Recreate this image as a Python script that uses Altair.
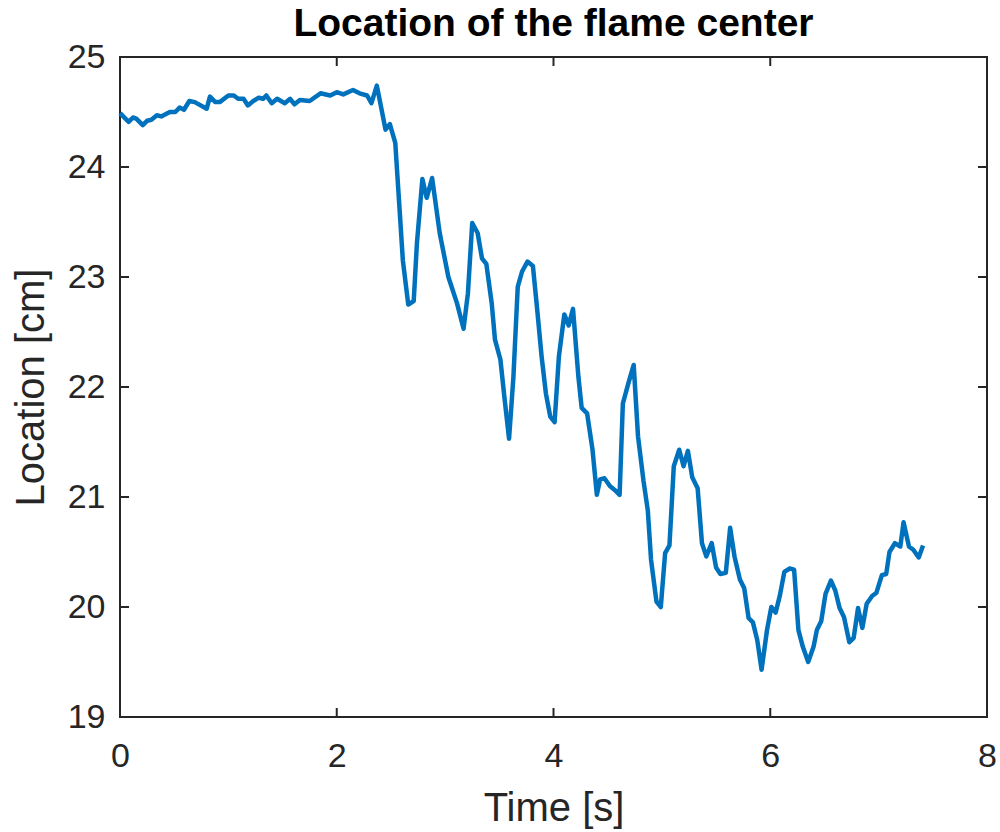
import altair as alt
import pandas as pd

TITLE = "Location of the flame center"
X_TITLE = "Time [s]"
Y_TITLE = "Location [cm]"
X_TICKS = [0, 2, 4, 6, 8]
Y_TICKS = [19, 20, 21, 22, 23, 24, 25]

time_s = [0.00, 0.08, 0.12, 0.15, 0.21, 0.25, 0.29, 0.34, 0.38, 0.46,
          0.51, 0.55, 0.59, 0.64, 0.69, 0.80, 0.83, 0.88, 0.92, 1.00,
          1.05, 1.09, 1.14, 1.18, 1.23, 1.28, 1.32, 1.35, 1.40, 1.45,
          1.52, 1.57, 1.61, 1.66, 1.75, 1.85, 1.94, 2.00, 2.06, 2.15,
          2.21, 2.28, 2.32, 2.37, 2.45, 2.49, 2.54,
          2.58, 2.61, 2.66, 2.71, 2.74, 2.79, 2.83, 2.88, 2.95, 3.03,
          3.11, 3.17, 3.21, 3.25, 3.30, 3.34, 3.38, 3.43, 3.46, 3.51,
          3.55, 3.59, 3.63, 3.67, 3.71, 3.76, 3.81, 3.85, 3.89, 3.93,
          3.97, 4.01, 4.05, 4.10, 4.14, 4.18, 4.23,
          4.26, 4.31, 4.36, 4.40, 4.43, 4.47, 4.52, 4.57, 4.61, 4.64,
          4.69, 4.74, 4.78, 4.83, 4.87, 4.90, 4.95, 4.99, 5.03, 5.07,
          5.11, 5.16, 5.20, 5.24, 5.28, 5.33, 5.37, 5.41, 5.46, 5.50,
          5.54, 5.59, 5.63, 5.67, 5.72, 5.76, 5.80, 5.84,
          5.88, 5.92, 5.97, 6.01, 6.05, 6.09, 6.13, 6.18, 6.22, 6.26,
          6.30, 6.35, 6.40, 6.43, 6.47, 6.51, 6.56, 6.60, 6.64, 6.68,
          6.73, 6.77, 6.81, 6.85, 6.89, 6.94, 6.98, 7.03, 7.07, 7.10,
          7.15, 7.20, 7.23, 7.28, 7.32, 7.37, 7.41]

location_cm = [24.49, 24.41, 24.45, 24.44, 24.38, 24.42, 24.43, 24.47, 24.46, 24.50,
               24.50, 24.54, 24.52, 24.60, 24.59, 24.53, 24.64, 24.59, 24.59, 24.65,
               24.65, 24.62, 24.62, 24.56, 24.60, 24.63, 24.62, 24.65, 24.58, 24.62,
               24.58, 24.62, 24.57, 24.61, 24.60, 24.67, 24.65, 24.68, 24.66, 24.70,
               24.67, 24.65, 24.58, 24.74, 24.34, 24.39, 24.22,
               23.61, 23.15, 22.75, 22.78, 23.31, 23.89, 23.72, 23.90, 23.40, 23.00,
               22.76, 22.53, 22.85, 23.49, 23.40, 23.17, 23.12, 22.76, 22.43, 22.25,
               21.88, 21.53, 22.09, 22.91, 23.05, 23.14, 23.10, 22.70, 22.28, 21.94,
               21.73, 21.68, 22.28, 22.66, 22.56, 22.71, 22.09,
               21.81, 21.76, 21.43, 21.02, 21.16, 21.17, 21.10, 21.06, 21.02, 21.85,
               22.03, 22.20, 21.55, 21.15, 20.88, 20.43, 20.05, 20.00, 20.49, 20.56,
               21.28, 21.43, 21.28, 21.42, 21.18, 21.08, 20.58, 20.46, 20.58, 20.36,
               20.30, 20.31, 20.72, 20.46, 20.25, 20.17, 19.90, 19.86,
               19.70, 19.43, 19.79, 20.00, 19.95, 20.11, 20.32, 20.35, 20.34, 19.79,
               19.64, 19.50, 19.64, 19.79, 19.87, 20.12, 20.24, 20.15, 19.99, 19.91,
               19.68, 19.72, 19.99, 19.81, 20.03, 20.10, 20.13, 20.29, 20.30, 20.50,
               20.58, 20.55, 20.77, 20.55, 20.52, 20.45, 20.56]

W, H = 867, 660
TICK_LEN = 9
FONT = "Liberation Sans"
DARK = "#262626"
LINE_COLOR = "#0072BD"

df = pd.DataFrame({"t": time_s, "loc": location_cm})
xt = pd.DataFrame({"t": X_TICKS})
yt = pd.DataFrame({"loc": Y_TICKS})

xscale = alt.Scale(domain=[0, 8], nice=False, zero=False)
yscale = alt.Scale(domain=[19, 25], nice=False, zero=False)

x_axis = alt.Axis(title=X_TITLE, values=X_TICKS, format="d", labelFlush=False,
                  labelPadding=22, titleBaseline="alphabetic", titleY=103)
y_axis = alt.Axis(title=Y_TITLE, values=Y_TICKS, format="d", labelFlush=False,
                  labelPadding=15, titleAngle=270, titleBaseline="alphabetic",
                  titleX=-77)

X = alt.X("t:Q", scale=xscale, axis=x_axis)
Y = alt.Y("loc:Q", scale=yscale, axis=y_axis)

line = alt.Chart(df).mark_line(color=LINE_COLOR, strokeWidth=4.5, strokeJoin="round").encode(
    x=X, y=Y)

tick_style = dict(color=DARK, strokeWidth=2)
bottom_ticks = alt.Chart(xt).mark_rule(**tick_style).encode(
    x=X, y=alt.value(H), y2=alt.value(H - TICK_LEN))
top_ticks = alt.Chart(xt).mark_rule(**tick_style).encode(
    x=X, y=alt.value(0), y2=alt.value(TICK_LEN))
left_ticks = alt.Chart(yt).mark_rule(**tick_style).encode(
    y=Y, x=alt.value(0), x2=alt.value(TICK_LEN))
right_ticks = alt.Chart(yt).mark_rule(**tick_style).encode(
    y=Y, x=alt.value(W), x2=alt.value(W - TICK_LEN))

chart = alt.layer(line, bottom_ticks, top_ticks, left_ticks, right_ticks).properties(
    width=W, height=H,
    background="white",
    autosize=alt.AutoSizeParams(type="none"),
    padding={"left": 120, "top": 57, "right": 13, "bottom": 115},
    title=alt.TitleParams(TITLE, font=FONT, fontSize=39, fontWeight="bold", color="black",
                          anchor="middle", frame="group", baseline="alphabetic",
                          offset=20, dy=55),
).configure_view(
    stroke=DARK, strokeWidth=2
).configure_axis(
    ticks=False, tickSize=0, domain=False, grid=False,
    labelFont=FONT, labelFontSize=34, labelColor=DARK,
    titleFont=FONT, titleFontSize=40, titleFontWeight="normal", titleColor=DARK,
)

chart.save("out.html", embed_options={"renderer": "svg", "actions": False})
